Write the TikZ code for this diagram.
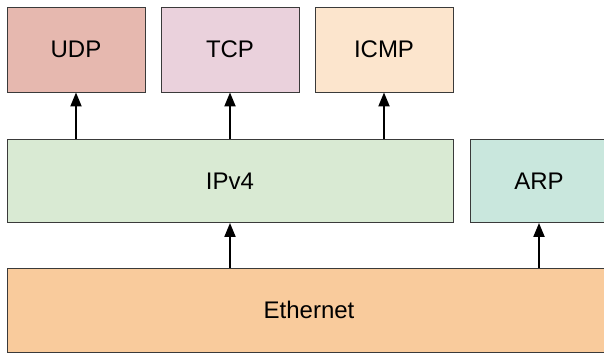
\documentclass[tikz,border=0pt]{standalone}
\usepackage{fontspec}
\setmainfont{Liberation Sans}
\usetikzlibrary{arrows.meta}
\definecolor{udpfill}{HTML}{E6B8AF}
\definecolor{tcpfill}{HTML}{EAD1DC}
\definecolor{icmpfill}{HTML}{FCE5CD}
\definecolor{ipfill}{HTML}{D9EAD3}
\definecolor{arpfill}{HTML}{C9E7DD}
\definecolor{ethfill}{HTML}{F9CB9C}
\definecolor{edge}{HTML}{3A3A3A}
\tikzset{
  layer/.style={draw=edge, line width=0.9pt, inner sep=0pt, minimum height=85pt,
    font=\fontsize{24}{28}\selectfont},
  uparrow/.style={line width=2pt, -{Triangle[length=14pt,width=11pt]}}
}
\begin{document}
\begin{tikzpicture}[x=1pt,y=-1pt]
  \clip (0,0) rectangle (604,353);
  \fill[white] (0,0) rectangle (604,353);
  % transport layer
  \node[layer, fill=udpfill, minimum width=138pt] (udp) at (76,49.5) {UDP};
  \node[layer, fill=tcpfill, minimum width=138pt] (tcp) at (230,49.5) {TCP};
  \node[layer, fill=icmpfill, minimum width=138pt] (icmp) at (384,49.5) {ICMP};
  % network layer
  \node[layer, fill=ipfill, minimum width=446pt, minimum height=83pt] (ip) at (230,181) {IPv4};
  \node[layer, fill=arpfill, minimum width=138pt, minimum height=83pt] (arp) at (539,181) {ARP};
  % link layer
  \node[layer, fill=ethfill, minimum width=604pt, minimum height=84pt] (eth) at (309,310) {Ethernet};
  % upward connectors
  \draw[uparrow] (ip.north -| udp) -- (udp.south);
  \draw[uparrow] (ip.north -| tcp) -- (tcp.south);
  \draw[uparrow] (ip.north -| icmp) -- (icmp.south);
  \draw[uparrow] (eth.north -| ip) -- (ip.south);
  \draw[uparrow] (eth.north -| arp) -- (arp.south);
\end{tikzpicture}
\end{document}
